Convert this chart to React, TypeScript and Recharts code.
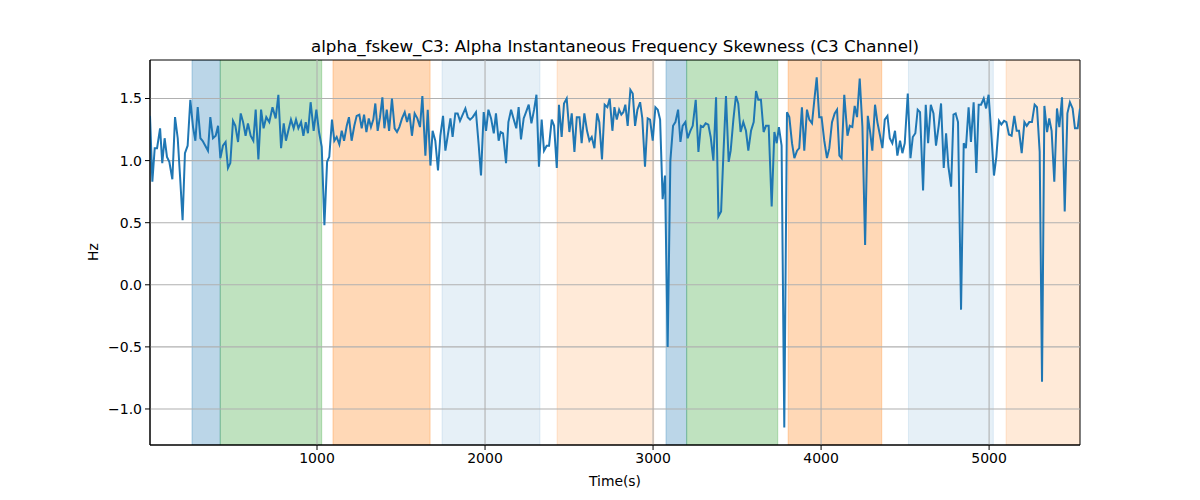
import { LineChart, Line, XAxis, YAxis, ReferenceArea, ReferenceLine } from 'recharts'

// seconds
const TIME = [
  6, 20, 34, 48, 66, 79, 93, 107, 121, 139, 155, 171, 185, 200, 214, 230, 246, 262, 276, 290,
  306, 319, 335, 351, 365, 381, 397, 411, 425, 440, 456, 470, 484, 500, 514, 530, 546, 560, 575, 589,
  605, 621, 635, 651, 667, 682, 698, 716, 735, 754, 770, 786, 802, 815, 829, 845, 861, 875, 889, 905,
  919, 933, 946, 962, 980, 996, 1012, 1028, 1044, 1060, 1073, 1089, 1103, 1117, 1133, 1147, 1161, 1177, 1190, 1206,
  1222, 1236, 1252, 1266, 1280, 1294, 1308, 1321, 1335, 1347, 1361, 1375, 1389, 1401, 1415, 1429, 1446, 1462, 1476, 1490,
  1506, 1522, 1536, 1550, 1565, 1581, 1597, 1613, 1627, 1645, 1659, 1675, 1688, 1704, 1720, 1734, 1750, 1764, 1778, 1794,
  1807, 1823, 1837, 1851, 1867, 1883, 1897, 1911, 1927, 1946, 1962, 1976, 1992, 2006, 2020, 2036, 2052, 2065, 2081, 2093,
  2107, 2125, 2139, 2155, 2171, 2186, 2200, 2214, 2230, 2244, 2260, 2276, 2292, 2306, 2321, 2337, 2351, 2367, 2381, 2397,
  2411, 2427, 2440, 2456, 2470, 2486, 2502, 2516, 2532, 2546, 2562, 2575, 2591, 2607, 2621, 2635, 2651, 2667, 2680, 2696,
  2712, 2728, 2742, 2758, 2770, 2784, 2798, 2811, 2823, 2835, 2849, 2865, 2879, 2893, 2907, 2923, 2936, 2952, 2968, 2982,
  2998, 3014, 3028, 3042, 3057, 3071, 3087, 3103, 3119, 3133, 3149, 3163, 3176, 3192, 3206, 3222, 3236, 3254, 3270, 3284,
  3298, 3313, 3329, 3343, 3359, 3375, 3389, 3405, 3419, 3434, 3450, 3462, 3478, 3493, 3507, 3521, 3537, 3553, 3567, 3583,
  3599, 3613, 3626, 3642, 3658, 3672, 3688, 3706, 3722, 3736, 3749, 3765, 3781, 3797, 3811, 3827, 3841, 3857, 3870, 3886,
  3900, 3916, 3930, 3946, 3960, 3974, 3989, 4003, 4019, 4035, 4049, 4065, 4081, 4095, 4109, 4122, 4138, 4157, 4171, 4186,
  4200, 4214, 4230, 4246, 4262, 4278, 4292, 4305, 4321, 4335, 4351, 4365, 4379, 4395, 4409, 4424, 4440, 4454, 4470, 4484,
  4498, 4516, 4532, 4546, 4561, 4575, 4589, 4607, 4623, 4637, 4653, 4669, 4684, 4700, 4714, 4730, 4744, 4758, 4774, 4788,
  4801, 4815, 4833, 4849, 4862, 4878, 4892, 4908, 4924, 4938, 4952, 4968, 4982, 4997, 5013, 5029, 5043, 5059, 5073, 5089,
  5103, 5118, 5134, 5150, 5164, 5178, 5194, 5210, 5224, 5239, 5255, 5271, 5285, 5301, 5315, 5329, 5345, 5358, 5372, 5388,
  5404, 5418, 5434, 5450, 5466, 5481, 5497, 5511, 5527, 5541,
]

// Hz
const ALPHA_FSKEW = [
  1.36, 0.83, 1.10, 1.10, 1.26, 0.98, 1.18, 1.03, 0.99, 0.85, 1.35, 1.18, 0.87, 0.52, 1.06, 1.12, 1.49, 1.27, 1.16, 1.43,
  1.18, 1.16, 1.12, 1.08, 1.35, 1.18, 1.20, 1.28, 1.02, 1.12, 1.15, 0.94, 0.98, 1.32, 1.28, 1.15, 1.38, 1.31, 1.20, 1.30,
  1.20, 1.16, 1.41, 1.01, 1.41, 1.26, 1.35, 1.31, 1.43, 1.34, 1.53, 1.10, 1.30, 1.16, 1.24, 1.33, 1.26, 1.33, 1.26, 1.31,
  1.20, 1.31, 1.22, 1.47, 1.24, 1.41, 1.23, 1.11, 0.48, 0.99, 1.03, 1.33, 1.16, 1.19, 1.13, 1.24, 1.16, 1.28, 1.35, 1.16,
  1.28, 1.36, 1.37, 1.26, 1.37, 1.23, 1.34, 1.27, 1.33, 1.46, 1.24, 1.35, 1.51, 1.26, 1.41, 1.24, 1.50, 1.26, 1.23, 1.27,
  1.34, 1.39, 1.31, 1.38, 1.20, 1.38, 1.34, 1.27, 1.52, 1.04, 1.41, 0.96, 1.24, 1.16, 0.92, 1.20, 1.36, 1.08, 1.20, 1.34,
  1.19, 1.38, 1.38, 1.32, 1.37, 1.42, 1.35, 1.33, 1.35, 1.39, 1.13, 0.88, 1.39, 1.24, 1.41, 1.34, 1.22, 1.38, 1.16, 1.23,
  1.22, 0.98, 1.31, 1.41, 1.33, 1.26, 1.43, 1.17, 1.34, 1.39, 1.45, 1.30, 1.41, 1.53, 0.95, 1.33, 1.08, 1.12, 1.12, 1.33,
  1.28, 0.94, 1.45, 1.19, 1.46, 1.50, 1.23, 1.38, 1.07, 1.35, 1.35, 1.14, 1.38, 1.24, 1.16, 1.19, 1.10, 1.38, 1.31, 1.01,
  1.45, 1.43, 1.50, 1.24, 1.43, 1.33, 1.41, 1.37, 1.39, 1.45, 1.28, 1.57, 1.54, 1.28, 1.41, 1.47, 1.34, 0.95, 1.34, 1.33,
  1.16, 1.43, 1.41, 1.33, 0.69, 0.88, -0.50, 1.00, 1.28, 1.31, 1.41, 1.15, 1.28, 1.31, 1.18, 1.24, 1.28, 1.49, 1.07, 1.28,
  1.27, 1.30, 1.29, 1.19, 1.00, 1.51, 0.55, 0.59, 1.06, 1.52, 0.99, 1.08, 1.33, 1.52, 1.46, 1.23, 1.31, 1.24, 1.08, 1.24,
  1.31, 1.56, 1.49, 1.49, 1.23, 1.28, 1.28, 0.63, 1.23, 1.14, 1.27, 1.12, -1.15, 1.39, 1.35, 1.14, 1.02, 1.08, 1.10, 1.43,
  1.08, 1.41, 1.33, 1.30, 1.49, 1.67, 1.35, 1.35, 1.16, 1.02, 1.10, 1.31, 1.38, 1.41, 1.04, 1.02, 1.53, 1.20, 1.28, 1.27,
  1.44, 1.35, 1.66, 1.27, 0.32, 1.36, 1.23, 1.08, 1.45, 1.31, 1.20, 1.10, 1.33, 1.36, 1.18, 1.14, 1.24, 1.04, 1.16, 1.06,
  1.14, 1.54, 1.02, 1.19, 1.22, 1.41, 1.39, 0.76, 1.45, 1.14, 1.45, 1.38, 1.12, 1.28, 1.46, 0.94, 1.22, 0.95, 0.79, 1.37,
  1.38, 1.31, -0.20, 1.14, 1.10, 1.43, 1.15, 1.47, 0.90, 1.45, 1.45, 1.50, 1.42, 1.53, 1.22, 0.88, 1.03, 1.32, 1.29, 1.32,
  1.31, 1.21, 1.20, 1.36, 1.24, 1.24, 1.06, 1.31, 1.28, 1.31, 1.31, 1.45, 1.43, 1.07, -0.78, 1.44, 1.23, 1.34, 1.24, 0.83,
  1.42, 1.27, 1.51, 0.59, 1.38, 1.47, 1.42, 1.26, 1.26, 1.42,
]

// shaded stages
const BAND_START = [256, 424, 1095, 1744, 2429, 3077, 3200, 3804, 4520, 5101]
const BAND_END = [424, 1028, 1673, 2327, 3004, 3200, 3742, 4361, 5025, 5541]
const BAND_KIND = ['blue', 'green', 'orange', 'paleBlue', 'paleOrange', 'blue', 'green', 'orange', 'paleBlue', 'paleOrange']

const X_TICKS = [1000, 2000, 3000, 4000, 5000]
const Y_TICKS = [-1, -0.5, 0, 0.5, 1, 1.5]

const X_DOMAIN: [number, number] = [6, 5541]
const Y_DOMAIN: [number, number] = [-1.29, 1.81]

const BAND_STYLE: Record<string, { fill: string; opacity: number }> = {
  blue: { fill: '#1f77b4', opacity: 0.3 },
  green: { fill: '#2ca02c', opacity: 0.3 },
  orange: { fill: '#ff7f0e', opacity: 0.3 },
  paleBlue: { fill: '#1f77b4', opacity: 0.11 },
  paleOrange: { fill: '#ff7f0e', opacity: 0.16 },
}

const FONT = '"DejaVu Sans", sans-serif'

const data = TIME.map((t, i) => ({ t, v: ALPHA_FSKEW[i] }))

const fmtY = (v: number) => v.toFixed(1).replace('-', '\u2212')

export default function App() {
  return (
    <div style={{ position: 'absolute', left: 0, top: 0, width: 1200, height: 500, background: '#fff', fontFamily: FONT }}>
      <LineChart width={1200} height={500} data={data} margin={{ top: 60, right: 120, bottom: 25, left: 90 }}>
        {BAND_START.map((x1, i) => {
          const s = BAND_STYLE[BAND_KIND[i]]
          return (
            <ReferenceArea
              key={`band-${i}`}
              x1={x1}
              x2={BAND_END[i]}
              y1={Y_DOMAIN[0]}
              y2={Y_DOMAIN[1]}
              fill={s.fill}
              fillOpacity={s.opacity}
              stroke={s.fill}
              strokeOpacity={s.opacity}
              ifOverflow="hidden"
            />
          )
        })}
        {X_TICKS.map((x) => (
          <ReferenceLine key={`gx-${x}`} x={x} stroke="#b0b0b0" strokeWidth={1.1} />
        ))}
        {Y_TICKS.map((y) => (
          <ReferenceLine key={`gy-${y}`} y={y} stroke="#b0b0b0" strokeWidth={1.1} />
        ))}
        <XAxis
          type="number"
          dataKey="t"
          domain={X_DOMAIN}
          allowDataOverflow
          ticks={X_TICKS}
          height={30}
          tickSize={5}
          tickMargin={3}
          tick={{ fill: '#000', fontSize: 14, fontFamily: FONT }}
          tickLine={{ stroke: '#000' }}
          axisLine={{ stroke: '#000' }}
        />
        <YAxis
          type="number"
          domain={Y_DOMAIN}
          allowDataOverflow
          ticks={Y_TICKS}
          tickFormatter={fmtY}
          width={60}
          tickSize={5}
          tickMargin={3}
          tick={{ fill: '#000', fontSize: 14, fontFamily: FONT }}
          tickLine={{ stroke: '#000' }}
          axisLine={{ stroke: '#000' }}
        />
        <Line
          type="linear"
          dataKey="v"
          stroke="#1f77b4"
          strokeWidth={2}
          dot={false}
          activeDot={false}
          isAnimationActive={false}
        />
        <ReferenceArea
          x1={X_DOMAIN[0]}
          x2={X_DOMAIN[1]}
          y1={Y_DOMAIN[0]}
          y2={Y_DOMAIN[1]}
          fill="none"
          stroke="#000"
          strokeWidth={1}
        />
      </LineChart>
      <div
        style={{
          position: 'absolute',
          left: 615,
          top: 36,
          transform: 'translateX(-50%)',
          fontSize: 16.7,
          lineHeight: '20px',
          whiteSpace: 'nowrap',
          color: '#000',
        }}
      >
        alpha_fskew_C3: Alpha Instantaneous Frequency Skewness (C3 Channel)
      </div>
      <div
        style={{
          position: 'absolute',
          left: 615,
          top: 472,
          transform: 'translateX(-50%)',
          fontSize: 13.9,
          lineHeight: '18px',
          whiteSpace: 'nowrap',
          color: '#000',
        }}
      >
        Time(s)
      </div>
      <div
        style={{
          position: 'absolute',
          left: 93,
          top: 252,
          transform: 'translate(-50%, -50%) rotate(-90deg)',
          fontSize: 13.9,
          lineHeight: '18px',
          whiteSpace: 'nowrap',
          color: '#000',
        }}
      >
        Hz
      </div>
    </div>
  )
}
